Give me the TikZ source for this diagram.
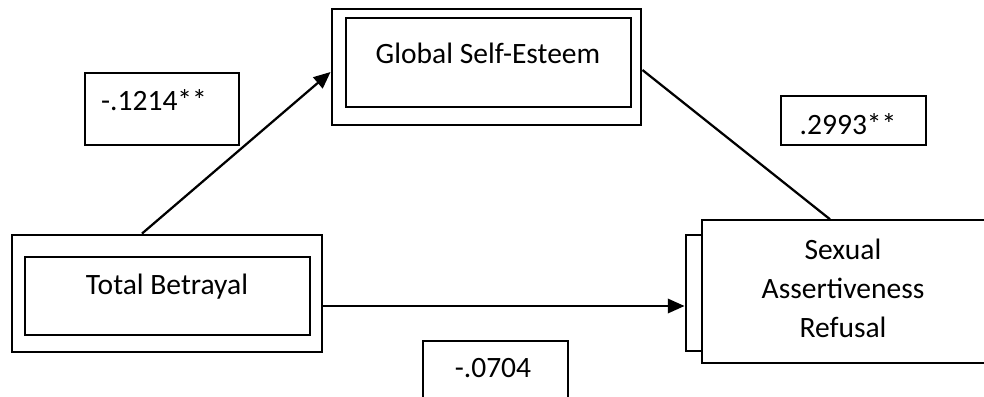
\documentclass[tikz,border=0pt]{standalone}
\usepackage{fontspec}
\setmainfont{Carlito}
\usetikzlibrary{arrows.meta,calc}
\tikzset{
  outerbox/.style={draw, line width=2pt, rectangle, inner sep=0pt},
  innerbox/.style={draw, line width=1pt, rectangle, inner sep=0pt, fill=white},
  lbl/.style={font=\fontsize{21}{27.5}\selectfont, inner sep=0pt},
  conn/.style={line width=1.6pt, -{Triangle[length=0.42cm,width=0.36cm]}},
  plain/.style={line width=1.6pt}
}
\begin{document}
\begin{tikzpicture}[x=0.025cm,y=-0.025cm]
\useasboundingbox (0,0) rectangle (984,396);
\clip (0,0) rectangle (984,396);
\node[outerbox, minimum width=7.725cm, minimum height=2.9cm] (gseOut) at (486.5,67) {};
\node[innerbox, minimum width=7.125cm, minimum height=2.225cm] (gseIn) at (488.5,62.5) {};
\node[lbl, anchor=base] (gseTxt) at (488,63) {Global Self-Esteem};
\node[outerbox, minimum width=7.75cm, minimum height=2.925cm] (tbOut) at (167,293.5) {};
\node[innerbox, minimum width=7.125cm, minimum height=1.95cm] (tbIn) at (167.5,296) {};
\node[lbl, anchor=base] (tbTxt) at (167,294) {Total Betrayal};
\node[outerbox, minimum width=7.5cm, minimum height=2.9cm] (sarOut) at (836,293) {};
\node[innerbox, minimum width=7.2cm, minimum height=3.575cm] (sarIn) at (846,291.5) {};
\node[lbl, align=center] (sarTxt) at (843,288.5) {Sexual\\Assertiveness\\Refusal};
\node[innerbox, minimum width=3.85cm, minimum height=1.8cm] (aBox) at (162,109) {};
\node[lbl, anchor=base] (aTxt) at (154,110) {-.1214**};
\node[innerbox, minimum width=3.625cm, minimum height=1.225cm] (bBox) at (853.5,120.5) {};
\node[lbl, anchor=base] (bTxt) at (848,134) {.2993**};
\node[innerbox, minimum width=3.625cm, minimum height=1.725cm] (cBox) at (495.5,375.5) {};
\node[lbl, anchor=base] (cTxt) at (493,377) {-.0704};
\coordinate (tbR) at ($(tbOut.east)+(0,12.5)$);
\draw[conn] ($(tbOut.north west)!0.42!(tbOut.north east)$) -- ($(gseOut.west)+(0,5)$);
\draw[plain] ($(gseOut.east)+(0,3)$) -- ($(sarIn.north)+(-16,0)$);
\draw[conn] (tbR) -- (tbR -| sarOut.west);
\end{tikzpicture}
\end{document}
